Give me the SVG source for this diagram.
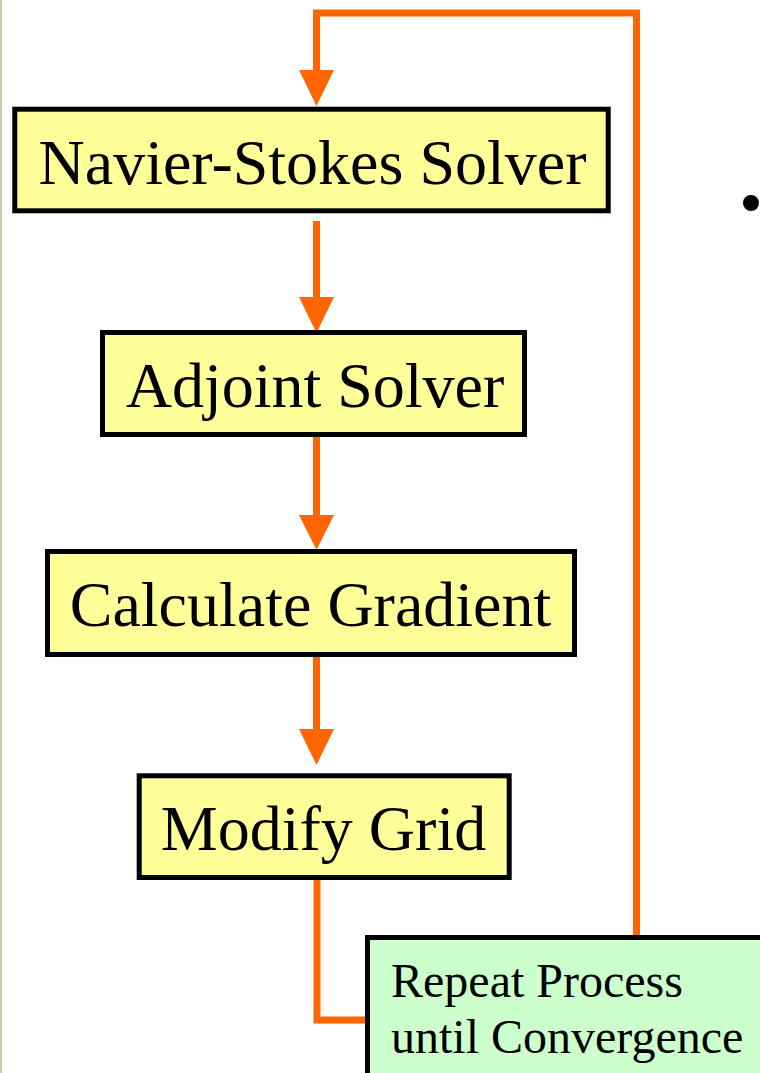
<svg xmlns="http://www.w3.org/2000/svg" width="760" height="1073" viewBox="0 0 760 1073">
  <style>
    .box { fill: #FFFF99; stroke: #000; stroke-width: 5; }
    .note { fill: #CCFFCC; stroke: #000; stroke-width: 5; }
    .lbl { font-family: "Liberation Serif", "Times New Roman", serif; font-size: 64px; fill: #000; text-anchor: middle; }
    .nlbl { font-family: "Liberation Serif", "Times New Roman", serif; font-size: 48px; fill: #000; }
    .wire { fill: none; stroke: #FF6600; stroke-width: 7; stroke-linejoin: miter; }
    .head { fill: #FF6600; }
  </style>
  <rect x="0" y="0" width="760" height="1073" fill="#FFFFFF"/>
  <rect x="0" y="0" width="2" height="1073" fill="#C6CFA0"/>
  <circle cx="751" cy="203" r="8" fill="#000"/>

  <g id="connectors">
    <path class="wire" d="M 636.5 937 L 636.5 13 L 316.5 13 L 316.5 72"/>
    <polygon class="head" points="299,70 334,70 316.5,106"/>
    <path class="wire" d="M 316.5 221 L 316.5 299"/>
    <polygon class="head" points="299,297 334,297 316.5,333"/>
    <path class="wire" d="M 316.5 437 L 316.5 517"/>
    <polygon class="head" points="299,515 334,515 316.5,550"/>
    <path class="wire" d="M 316.5 656 L 316.5 731"/>
    <polygon class="head" points="299,729 334,729 316.5,765"/>
    <path class="wire" d="M 317 879 L 317 1020 L 367 1020"/>
  </g>

  <g id="node-navier-stokes">
    <rect class="box" x="14.8" y="109.2" width="593.4" height="101.6"/>
    <text class="lbl" x="312.5" y="184">Navier-Stokes Solver</text>
  </g>
  <g id="node-adjoint">
    <rect class="box" x="102.5" y="332.5" width="422" height="102"/>
    <text class="lbl" x="315" y="407">Adjoint Solver</text>
  </g>
  <g id="node-gradient">
    <rect class="box" x="47.5" y="551.5" width="527" height="103"/>
    <text class="lbl" x="310.5" y="626">Calculate Gradient</text>
  </g>
  <g id="node-modify-grid">
    <rect class="box" x="139.2" y="775.8" width="370" height="101.7"/>
    <text class="lbl" x="323.5" y="850">Modify Grid</text>
  </g>
  <g id="node-repeat">
    <rect class="note" x="367.5" y="937.5" width="420" height="160"/>
    <text class="nlbl" x="391" y="997">Repeat Process</text>
    <text class="nlbl" x="391" y="1053">until Convergence</text>
  </g>
</svg>
